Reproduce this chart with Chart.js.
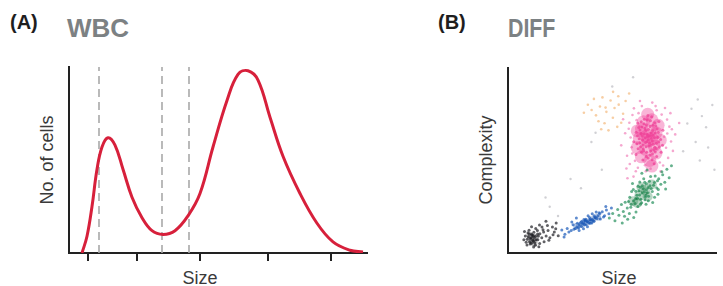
<!DOCTYPE html>
<html>
<head>
<meta charset="utf-8">
<script src="https://cdn.jsdelivr.net/npm/chart.js@4.4.1/dist/chart.umd.min.js"></script>
<style>
	body { margin: 0; width: 723px; height: 286px; overflow: hidden; background: #fff; font-family: "Liberation Sans", Arial, sans-serif; }
	.box { position: absolute; }
	.lbl { position: absolute; white-space: nowrap; line-height: 1; }
	.panel { font-weight: bold; font-size: 20px; color: #1e1e1e; }
	.head { font-weight: bold; font-size: 26px; color: #7c8183; }
	.axis { font-size: 18px; color: #3a3a3a; height: 18px; line-height: 18px; text-align: center; }
	.rot { transform: rotate(-90deg); }
</style>
</head>
<body>

<div class="lbl panel" style="left:10px; top:12px;">(A)</div>
<div class="lbl head" style="left:67px; top:15px;">WBC</div>
<div class="lbl panel" style="left:438px; top:12px;">(B)</div>
<div class="lbl head" style="left:508px; top:15px; transform:scaleX(0.82); transform-origin:left;">DIFF</div>

<div class="lbl axis rot" style="left:-3px; top:151px; width:100px;">No. of cells</div>
<div class="lbl axis" style="left:150px; top:269px; width:100px;">Size</div>
<div class="lbl axis rot" style="left:436px; top:151px; width:100px;">Complexity</div>
<div class="lbl axis" style="left:569px; top:269px; width:100px;">Size</div>

<div class="box" style="left:0; top:0;"><canvas id="wbc-chart" width="380" height="286"></canvas></div>
<div class="box" style="left:440px; top:0;"><canvas id="diff-chart" width="283" height="286"></canvas></div>

<script>
// (A) WBC histogram
var sizeX = [13, 18, 23, 28, 33, 39, 46, 54, 63, 73, 83, 94, 106, 119, 131, 144, 158, 169, 179, 189, 201, 214, 231, 248, 264, 281, 294];
var cellCount = [0, 9, 25, 45, 57, 62, 58, 45, 30, 19, 12, 10, 12, 20, 32, 57, 82, 96, 98, 93, 73, 52, 32, 16, 6, 1.5, 0.5];
var gateX = [30, 93, 120];
var sizeTicks = [19, 68, 131, 199, 262];

// (B) DIFF scatter, one list per cell population (size, complexity)
var blackPts = [[13.2,9.1],[11.1,8.2],[15.3,10.4],[12.2,6.3],[14.1,12.2],[10.3,10.1],[16.2,8.3],[12.4,11.2],[14.3,7.1],[11.2,5.3],[17.1,11.4],[13.3,13.2],[9.2,7.4],[15.2,5.1],[18.3,9.2],[10.1,12.3],[13.1,4.2],[16.3,14.1],[12.1,9.3],[19.2,12.1],[8.3,9.2],[14.2,10.3],[20.1,8.2],[11.3,14.2],[17.3,6.1],[22.2,11.3],[9.1,4.3],[15.1,15.2],[21.3,14.1],[12.3,3.2],[13.4,7.2],[11.4,10.2],[12.6,8.4],[14.6,9.2],[10.4,6.1],[23.1,16.2],[18.2,17.1],[24.1,9.3],[10.8,7.6],[11.9,6.9],[9.8,8.8],[12.8,5.6],[10.6,4.9],[8.7,5.8],[11.6,9.6],[9.6,10.9],[16.8,12.6],[19.6,6.9],[7.6,7.2],[14.8,3.4],[21.6,9.8],[18.9,14.9],[7.9,11.6],[22.9,13.1]];
var blackCore = [[11,7],[13,8.5],[10.5,9.5],[12.5,5.5]];
var bluePts = [[38.2,17.1],[36.1,16.3],[40.3,18.2],[34.2,15.1],[42.1,19.3],[37.3,18.2],[39.4,16.1],[35.2,14.3],[41.3,20.2],[33.1,14.2],[43.2,20.1],[37.4,15.3],[39.1,19.2],[32.3,13.2],[44.1,21.3],[36.4,18.1],[40.2,16.2],[30.3,12.1],[45.2,22.3],[38.1,14.2],[35.4,17.2],[41.2,17.1],[29.2,11.3],[46.3,20.2],[34.1,12.2],[42.3,22.1],[31.2,15.3],[38.4,20.1],[27.3,10.2],[44.3,18.4],[36.2,13.1],[40.4,21.2],[33.3,16.1],[47.2,23.3],[28.4,13.2],[37.1,17.3],[39.3,18.1],[36.6,15.4],[41.6,19.1],[38.7,16.4],[35.7,15.7],[40.8,17.6],[37.9,16.9],[39.8,17.7],[34.8,16.4],[42.7,18.6],[36.9,17.7],[33.8,13.6],[43.7,21.8],[31.6,12.9],[45.8,19.4],[25.8,12.4],[48.4,21.2],[30.6,16.8],[46.9,25.1],[26.9,8.6],[49.6,24.3],[32.8,18.9]];
var blueCore = [[33,14.5],[35.5,15.6],[38,16.8],[40.5,18],[43,19.3]];
var greenPts = [[64.3,32.4],[62.1,29.6],[66.4,34.2],[60.2,28.3],[68.1,36.4],[63.4,35.6],[65.7,28.8],[59.1,26.3],[70.2,38.1],[61.3,33.4],[67.4,30.7],[57.2,24.3],[72.3,40.2],[64.1,27.2],[66.3,37.4],[58.4,30.1],[69.2,33.3],[62.3,25.1],[71.4,35.2],[60.1,34.3],[55.3,22.4],[74.2,42.3],[63.2,38.4],[67.3,28.2],[56.2,27.4],[65.1,40.2],[61.4,22.2],[73.3,37.2],[53.2,20.4],[68.4,41.3],[58.2,21.3],[70.3,30.1],[54.4,26.2],[75.2,38.3],[62.4,36.1],[66.2,26.4],[59.3,33.2],[72.1,34.3],[57.4,18.2],[64.2,43.1],[51.3,17.4],[76.2,45.3],[69.4,27.3],[60.3,19.2],[65.4,33.1],[63.1,31.4],[67.2,35.3],[61.2,29.3],[66.1,31.2],[64.4,36.3],
	[62.8,33.7],[65.9,30.3],[68.7,34.9],[60.9,26.8],[63.7,29.1],[67.8,38.8],[66.8,32.6],[61.8,31.2],[64.9,34.7],[69.8,36.6],[58.9,24.7],[71.7,39.1],[63.5,26.4],[65.6,38.3],[57.8,27.9],[70.6,41.6],[55.9,19.8],[73.8,43.9],[52.6,23.5],[77.3,40.7],[50.2,21.4],[78.4,47.2],[54.8,16.2],[59.7,37.6],[71.9,31.8],[48.6,18.9],[66.7,44.8],[75.6,34.6]];
var greenCore = [[60,28],[63,31],[66,34],[69,37],[64,35.5],[62,27],[67,30.5]];
var pinkPts = [[67.3,61.2],[64.8,58.4],[69.6,63.7],[62.9,61.8],[71.2,59.3],[66.1,66.4],[68.4,55.2],[64.2,68.1],[70.3,70.4],[62.4,56.3],[72.1,65.2],[66.3,52.1],[69.1,50.4],[61.5,65.3],[73.2,61.4],[65.4,72.3],[68.2,68.4],[64.1,54.5],[70.4,57.1],[67.8,63.3],[63.2,59.6],[71.5,67.2],[66.6,60.1],[69.3,53.7],[62.2,70.3],[74.1,58.2],[65.3,64.4],[68.6,58.3],[72.4,71.1],[64.7,50.3],[70.2,62.4],[60.3,60.2],[67.1,74.3],[73.4,54.5],[66.2,57.4],[69.4,66.2],[63.3,66.5],[71.3,52.2],[65.1,55.3],[68.3,71.5],[61.4,53.2],[74.3,66.4],[66.4,69.3],[70.1,48.2],[64.4,63.2],[67.2,51.3],[72.3,60.1],[62.1,63.4],[69.2,60.5],[65.6,67.3],
	[66.9,62.8],[68.8,61.9],[65.9,59.7],[67.6,57.8],[70.7,64.9],[63.8,64.6],[69.9,55.8],[64.6,61.1],[71.8,62.6],[66.7,64.2],[68.1,52.9],[65.2,69.8],[70.9,68.6],[63.6,57.4],[67.4,66.7],[69.7,58.8],[64.9,56.2],[72.6,57.3],[61.8,59.1],[68.9,73.6],[66.5,54.4],[70.6,54.6],[63.9,70.9],[67.9,59.4],[65.8,62.3],[69.5,69.1],[62.7,67.8],[71.1,56.4],[66.8,71.9],[68.7,64.8]];
var pinkHalo = [[58.2,70.4],[76.3,72.1],[57.1,52.6],[78.2,60.3],[60.4,78.2],[75.3,78.4],[56.2,64.7],[79.1,55.2],[62.3,46.1],[74.4,47.3],[59.3,57.2],[77.4,68.3],[64.2,79.4],[71.3,77.2],[55.2,72.3],[80.2,64.1],[61.3,44.2],[58.4,48.1],[82.1,70.3],[54.3,58.2],[60.2,41.3],[66.1,44.2],[57.3,40.4],[73.2,44.1],[63.3,82.2],[69.2,81.3],[76.8,51.4],[59.7,74.6],[77.9,75.6],[56.8,45.7],[74.9,62.8],[60.9,49.8],[73.7,74.8],[58.8,62.4],[75.8,56.9],[62.6,75.6],[72.8,48.9],[78.6,66.9],[57.9,67.2],[65.7,47.4],[68.4,45.6],[70.8,79.4],[61.7,71.8],[76.4,64.6],[59.6,53.8]];
var pinkCore = [[64,52],[68,50],[71,54],[62,57],[66,56],[70,58],[73,61],[63,62],[67,61],[71,65],[64,67],[68,66],[72,69],[65,71],[69,72],[62,66],[67,75],[69,47],[66,63],[69,62]];
var orangePts = [[47.2,76.3],[44.1,79.2],[50.3,73.1],[42.2,74.4],[53.1,80.2],[46.3,70.1],[49.2,82.4],[40.1,77.3],[52.4,68.2],[45.3,84.1],[55.2,75.3],[43.4,71.2],[51.1,78.4],[38.3,80.1],[48.2,66.3],[56.4,82.2],[41.2,83.3],[54.3,70.4],[58.1,86.2],[50.4,87.1],[46.8,78.6],[36.4,75.8],[44.7,66.9],[52.9,84.7]];
var strayPts = [[40,60],[20,25],[45,45],[86,70],[90,60],[88,78],[95,68],[30,40],[50,90],[60,95],[92,50],[18,30],[24,20],[35,35],[98,80],[96,57],[93,74],[99,45],[42,65],[84,55],[91,83]];

function toXY(list) {
	return list.map(function(p) { return {x: p[0], y: p[1]}; });
}

function dots(list, color, r) {
	return {
		data: toXY(list),
		backgroundColor: color,
		borderWidth: 0,
		pointRadius: r,
		pointHoverRadius: r
	};
}

var wbcSets = [{
	data: sizeX.map(function(x, i) { return {x: x, y: cellCount[i]}; }),
	borderColor: '#d7203b',
	borderWidth: 3,
	pointRadius: 0,
	fill: false,
	tension: 0.4
}];
gateX.forEach(function(g) {
	wbcSets.push({
		data: [{x: g, y: 0}, {x: g, y: 100}],
		borderColor: '#a9a9a9',
		borderWidth: 1.6,
		borderDash: [8, 5],
		pointRadius: 0
	});
});

var wbcCtx = document.getElementById('wbc-chart').getContext('2d');
var wbcChart = new Chart(wbcCtx, {
	type: 'line',
	data: { datasets: wbcSets },
	options: {
		responsive: false,
		animation: false,
		layout: { padding: { left: 69, top: 67, right: 13, bottom: 25 } },
		plugins: { legend: { display: false }, tooltip: { enabled: false } },
		scales: {
			x: {
				type: 'linear', min: 0, max: 298,
				afterBuildTicks: function(axis) {
					axis.ticks = sizeTicks.map(function(v) { return {value: v}; });
				},
				ticks: { display: false },
				grid: { drawOnChartArea: false, drawTicks: true, tickLength: 8, color: '#222', lineWidth: 2 },
				border: { display: true, color: '#222', width: 2 }
			},
			y: {
				min: 0, max: 100,
				ticks: { display: false },
				grid: { display: false, drawTicks: false },
				border: { display: true, color: '#222', width: 2 }
			}
		}
	}
});

var diffCtx = document.getElementById('diff-chart').getContext('2d');
var diffChart = new Chart(diffCtx, {
	type: 'scatter',
	data: {
		datasets: [
			dots(strayPts, 'rgba(150, 150, 160, 0.45)', 1.2),
			dots(orangePts, 'rgba(240, 165, 90, 0.55)', 1.3),
			dots(blackCore, 'rgba(25, 25, 30, 0.3)', 3.5),
			dots(blackPts, 'rgba(30, 30, 35, 0.7)', 1.5),
			dots(blueCore, 'rgba(20, 80, 175, 0.35)', 3.5),
			dots(bluePts, 'rgba(25, 90, 185, 0.7)', 1.5),
			dots(greenCore, 'rgba(15, 120, 60, 0.3)', 5),
			dots(greenPts, 'rgba(20, 135, 80, 0.65)', 1.5),
			dots(pinkHalo, 'rgba(236, 80, 160, 0.5)', 1.3),
			dots(pinkCore, 'rgba(238, 60, 150, 0.38)', 6.5),
			dots(pinkPts, 'rgba(236, 64, 150, 0.7)', 1.5)
		]
	},
	options: {
		responsive: false,
		animation: false,
		layout: { padding: { left: 68, top: 68, right: 0, bottom: 33 } },
		plugins: { legend: { display: false }, tooltip: { enabled: false } },
		scales: {
			x: {
				type: 'linear', min: 0, max: 100,
				ticks: { display: false },
				grid: { display: false, drawTicks: false },
				border: { display: true, color: '#222', width: 2 }
			},
			y: {
				min: 0, max: 100,
				ticks: { display: false },
				grid: { display: false, drawTicks: false },
				border: { display: true, color: '#222', width: 2 }
			}
		}
	}
});
</script>
</body>
</html>
